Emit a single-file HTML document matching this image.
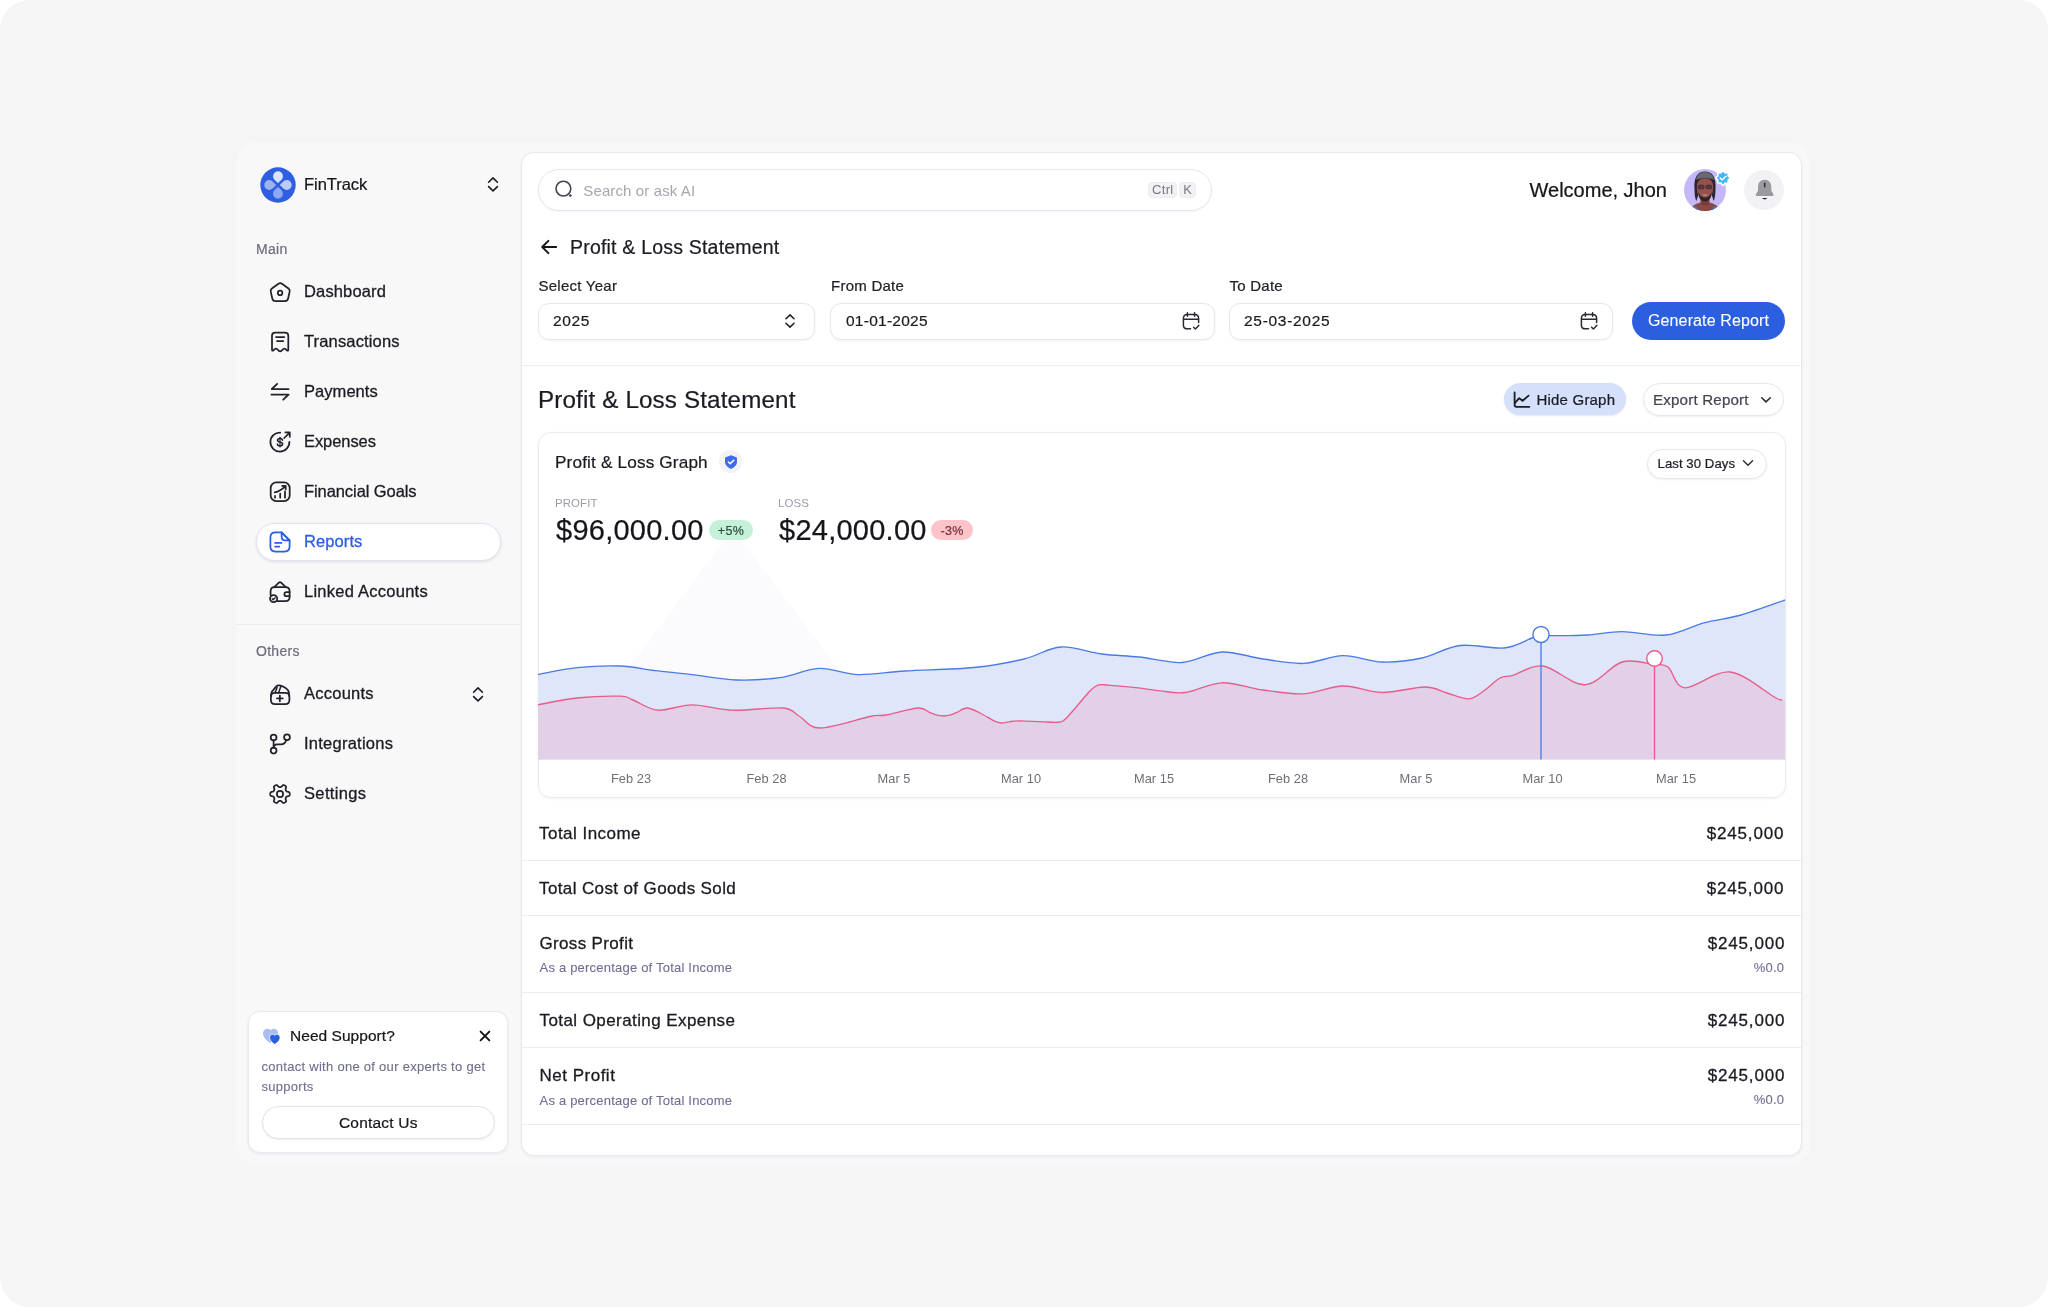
<!DOCTYPE html>
<html lang="en">
<head>
<meta charset="utf-8">
<title>FinTrack - Profit &amp; Loss Statement</title>
<style>
*{box-sizing:border-box;margin:0;padding:0}
html,body{width:2048px;height:1307px;overflow:hidden;background:#fff}
body{font-family:"Liberation Sans",sans-serif;color:#1b1b23;position:relative}
.abs{position:absolute}
#sidebar,#content{position:absolute;left:0;top:0;width:2048px;height:1307px;will-change:transform}
.t,.tr,.tc{-webkit-text-stroke:.22px}
.t{position:absolute;white-space:nowrap;line-height:1;transform:translateY(-50%)}
.tr{position:absolute;white-space:nowrap;line-height:1;transform:translate(-100%,-50%)}
.tc{position:absolute;white-space:nowrap;line-height:1;transform:translate(-50%,-50%)}
#bg{left:0;top:0;width:2048px;height:1307px;background:#f5f5f5;border-radius:30px}
#shell{left:236px;top:142px;width:1574px;height:1023px;background:#f8f8f9;border-radius:21px}
#main{left:521px;top:151.5px;width:1281px;height:1004px;background:#fff;border:1px solid #e8e8ef;border-radius:13px;box-shadow:0 1px 3px rgba(20,20,60,.06)}
.nav{font-size:16.5px;color:#1b1b23;letter-spacing:.25px;-webkit-text-stroke:.3px}
.lbl{font-size:14px;color:#6d6d7c;letter-spacing:.28px}
.ico{position:absolute;overflow:visible}
.hl{position:absolute;height:1px;background:#ececf1}
.inp{position:absolute;margin-top:.7px;height:37px;border:1px solid #e6e6ed;border-radius:11px;background:#fff;box-shadow:0 1px 2px rgba(20,20,60,.05)}
.pill{position:absolute;border:1px solid #e6e6ed;border-radius:20px;background:#fff;box-shadow:0 1px 2px rgba(20,20,60,.06)}
.row{font-size:17px;color:#1b1b23;letter-spacing:.2px;-webkit-text-stroke:.3px}
.sub{font-size:13px;color:#6e6e93;letter-spacing:.21px;-webkit-text-stroke:.1px}
.ax{font-size:12.8px;color:#6f6f79;-webkit-text-stroke:0;letter-spacing:.05px}
</style>
</head>
<body>
<div id="bg" class="abs"></div>
<div id="shell" class="abs"></div>

<!-- SIDEBAR -->
<div id="sidebar">
<!-- logo -->
<svg class="ico" style="left:259.1px;top:165.6px" width="38" height="38" viewBox="-19 -19 38 38">
  <defs>
    <linearGradient id="pg1" x1="0" y1="0" x2="0" y2="1"><stop offset="0" stop-color="#dde6fb"/><stop offset="1" stop-color="#d6e0fa"/></linearGradient>
    <linearGradient id="pg2" x1="0" y1="0" x2="0" y2="1"><stop offset="0" stop-color="#b9c9f6"/><stop offset="1" stop-color="#8ea8ef"/></linearGradient>
  </defs>
  <circle r="17.7" fill="#2d5fe0"/>
  <path id="ptl" d="M0,-1.8 C-1.5,-4 -4.9,-5.4 -4.9,-8.8 A4.9,4.9 0 1 1 4.9,-8.8 C4.9,-5.4 1.5,-4 0,-1.8Z" fill="url(#pg1)"/>
  <path d="M0,-1.8 C-1.5,-4 -4.9,-5.4 -4.9,-8.8 A4.9,4.9 0 1 1 4.9,-8.8 C4.9,-5.4 1.5,-4 0,-1.8Z" fill="#bccbf6" transform="rotate(90)"/>
  <path d="M0,-1.8 C-1.5,-4 -4.9,-5.4 -4.9,-8.8 A4.9,4.9 0 1 1 4.9,-8.8 C4.9,-5.4 1.5,-4 0,-1.8Z" fill="#90a8ef" transform="rotate(180)"/>
  <path d="M0,-1.8 C-1.5,-4 -4.9,-5.4 -4.9,-8.8 A4.9,4.9 0 1 1 4.9,-8.8 C4.9,-5.4 1.5,-4 0,-1.8Z" fill="#9db2f1" transform="rotate(270)"/>
</svg>
<div class="t" style="left:304px;top:184px;font-size:16.5px;letter-spacing:-.05px;color:#15151c">FinTrack</div>
<svg class="ico" style="left:481px;top:172px" width="24" height="24" viewBox="0 0 24 24" fill="none" stroke="#1b1b23" stroke-width="1.6" stroke-linecap="round" stroke-linejoin="round"><path d="M7.6 10.2 L12 5.9 L16.4 10.2 M7.6 14.6 L12 18.9 L16.4 14.6"/></svg>

<div class="t lbl" style="left:256px;top:248.6px">Main</div>

<!-- Dashboard -->
<svg class="ico" style="left:268px;top:280px" width="24" height="24" viewBox="0 0 24 24" fill="none" stroke="#22222b" stroke-width="1.75" stroke-linecap="round" stroke-linejoin="round"><path d="M10.4 3.7 Q12.2 2.4 14 3.7 L20.5 8.5 Q22.1 9.700 21.650 11.600 L20.100 18.500 Q19.500 21.100 16.900 21.100 L7.500 21.100 Q4.900 21.100 4.300 18.500 L2.750 11.600 Q2.300 9.700 3.900 8.500Z"/><circle cx="12.1" cy="12.9" r="2.25"/></svg>
<div class="t nav" style="left:304px;top:291.3px;letter-spacing:0.15px">Dashboard</div>

<!-- Transactions -->
<svg class="ico" style="left:268px;top:330px" width="24" height="24" viewBox="0 0 24 24" fill="none" stroke="#22222b" stroke-width="1.75" stroke-linecap="round" stroke-linejoin="round"><path d="M4 19.6 V5.8 Q4 2.6 7.2 2.6 H17.1 Q20.3 2.6 20.3 5.8 V19.6 Q20.3 21.3 18.9 20.4 L17.6 19.2 Q16.400 18.200 15.200 19.200 L13.600 20.700 Q12.150 21.800 10.700 20.700 L9.100 19.200 Q7.900 18.200 6.700 19.200 L5.400 20.400 Q4 21.300 4 19.600Z"/><path d="M8 7.1 H16.3 M9 11 H15.300"/></svg>
<div class="t nav" style="left:304px;top:341.3px;letter-spacing:0.15px">Transactions</div>

<!-- Payments -->
<svg class="ico" style="left:268px;top:380px" width="24" height="24" viewBox="0 0 24 24" fill="none" stroke="#22222b" stroke-width="1.75" stroke-linecap="round" stroke-linejoin="round"><path d="M20.6 9 H3.8 L9.2 3.9"/><path d="M3.4 14.500 H20.600 L15.200 19.700"/></svg>
<div class="t nav" style="left:304px;top:391.3px;letter-spacing:0.05px">Payments</div>

<!-- Expenses -->
<svg class="ico" style="left:268px;top:430px" width="24" height="24" viewBox="0 0 24 24" fill="none" stroke="#22222b" stroke-width="1.75" stroke-linecap="round" stroke-linejoin="round"><path d="M12.2 2.6 A9.5 9.5 0 1 0 21.4 11.8"/><path d="M17.4 2.4 H21.8 V6.8 M21.6 2.6 L16.2 8"/><path d="M14.500 10.300 C14.500 9.100 13.400 8.500 12 8.500 C10.500 8.500 9.500 9.200 9.500 10.300 C9.500 11.400 10.500 11.800 12 12.100 C13.600 12.400 14.600 12.900 14.600 14 C14.600 15.200 13.500 15.800 12 15.800 C10.500 15.800 9.400 15.200 9.400 14" stroke-width="1.500"/><path d="M12 7.300 V17" stroke-width="1.200"/></svg>
<div class="t nav" style="left:304px;top:441.3px;letter-spacing:-0.07px">Expenses</div>

<!-- Financial Goals -->
<svg class="ico" style="left:268px;top:480px" width="24" height="24" viewBox="0 0 24 24" fill="none" stroke="#22222b" stroke-width="1.75" stroke-linecap="round" stroke-linejoin="round"><rect x="2.7" y="2.4" width="19" height="18.700" rx="5.500"/><path d="M7 17.700 V15.900 M12.200 17.700 V13.700 M17 17.700 V11.400"/><path d="M6.700 12.400 Q12.400 11.200 17.200 6.400 M14.200 5.900 H17.700 V9.400"/></svg>
<div class="t nav" style="left:304px;top:491.3px;letter-spacing:-0.08px">Financial Goals</div>

<!-- Reports active -->
<div class="abs" style="left:256px;top:522.5px;width:244.5px;height:38px;background:#fff;border:1px solid #e2e3f0;border-radius:19px;box-shadow:0 1px 3px rgba(30,30,90,.12)"></div>
<svg class="ico" style="left:268.3px;top:530.2px" width="24" height="24" viewBox="0 0 24 24" fill="none" stroke="#2b5ee3" stroke-width="1.75" stroke-linecap="round" stroke-linejoin="round"><path d="M13.6 2.4 H7.4 Q2.4 2.4 2.4 7.4 V16.6 Q2.4 21.6 7.4 21.6 H16.6 Q21.6 21.6 21.6 16.6 V10.4 Z"/><path d="M13.6 2.4 L21.6 10.4 H17.6 Q13.6 10.4 13.6 6.4 Z"/><path d="M7.1 12.900 H13.500 M7.100 16.600 H11.300"/></svg>
<div class="t nav" style="left:304px;top:541.3px;color:#2b5ee3;letter-spacing:0.1px">Reports</div>

<!-- Linked Accounts -->
<svg class="ico" style="left:268px;top:580px" width="24" height="24" viewBox="0 0 24 24" fill="none" stroke="#22222b" stroke-width="1.75" stroke-linecap="round" stroke-linejoin="round"><path d="M9.4 21.2 H17.4 Q21.6 21.2 21.6 17 V11.4 Q21.6 7.2 17.4 7.2 H6.6 Q2.6 7.2 2.6 11.2 V15"/><path d="M6.2 7.2 L10.6 2.9 Q12 1.6 13.4 2.9 L17.8 7.2"/><path d="M21.6 12.2 H18.6 Q16.4 12.2 16.4 14.2 Q16.4 16.2 18.6 16.2 H21.6"/><circle cx="5.6" cy="18.6" r="3.6"/><path d="M4.2 18.7 L5.2 19.7 L7.1 17.7" stroke-width="1.3"/></svg>
<div class="t nav" style="left:304px;top:591.3px;letter-spacing:0.25px">Linked Accounts</div>

<div class="hl" style="left:236px;top:624px;width:285px;background:#ececf0"></div>
<div class="t lbl" style="left:256px;top:650.7px">Others</div>

<!-- Accounts -->
<svg class="ico" style="left:268px;top:682.5px" width="24" height="24" viewBox="0 0 24 24" fill="none" stroke="#22222b" stroke-width="1.75" stroke-linecap="round" stroke-linejoin="round"><path d="M2.9 13.700 Q2.900 9.900 6.700 9.900 H17.600 Q21.400 9.900 21.400 13.700 V17 Q21.400 21.100 17.300 21.100 H7 Q2.900 21.100 2.900 17Z"/><path d="M3 13 C3.100 9.400 4 7.800 5.400 6.900 L8.300 3.400 Q9.500 2.100 11.400 2.400 Q17 3.400 20.200 7.500 Q21.200 9 21.300 13"/><path d="M7.200 9.600 L9.100 4.400 M10.700 9.600 L12.800 3.500" stroke-width="1.500"/><path d="M9 15.400 H14.700 M11.850 12.600 V18.300"/></svg>
<div class="t nav" style="left:304px;top:693.3px;letter-spacing:0.25px">Accounts</div>
<svg class="ico" style="left:466px;top:682px" width="24" height="24" viewBox="0 0 24 24" fill="none" stroke="#1b1b23" stroke-width="1.6" stroke-linecap="round" stroke-linejoin="round"><path d="M7.6 10.2 L12 5.9 L16.4 10.2 M7.6 14.6 L12 18.9 L16.4 14.6"/></svg>

<!-- Integrations -->
<svg class="ico" style="left:268px;top:732px" width="24" height="24" viewBox="0 0 24 24" fill="none" stroke="#22222b" stroke-width="1.75" stroke-linecap="round" stroke-linejoin="round"><circle cx="5.6" cy="5.4" r="2.9"/><circle cx="5.6" cy="18.6" r="2.9"/><circle cx="19" cy="5.2" r="2.9"/><path d="M5.6 8.4 V15.6"/><path d="M5.6 15.700 Q5.700 12.300 9.200 12.300 L12.800 12.300 Q17.200 12.300 18.300 8"/></svg>
<div class="t nav" style="left:304px;top:743.3px;letter-spacing:0.25px">Integrations</div>

<!-- Settings -->
<svg class="ico" style="left:268px;top:782px" width="24" height="24" viewBox="0 0 24 24" fill="none" stroke="#22222b" stroke-width="1.75" stroke-linecap="round" stroke-linejoin="round"><path d="M21.75 12.00 L21.74 12.26 L21.73 12.51 L21.69 12.76 L21.64 13.01 L21.56 13.26 L21.43 13.49 L21.24 13.71 L20.95 13.90 L20.55 14.05 L20.07 14.16 L19.58 14.25 L19.18 14.33 L18.89 14.44 L18.68 14.56 L18.52 14.70 L18.40 14.85 L18.30 15.00 L18.20 15.16 L18.11 15.32 L18.02 15.47 L17.93 15.63 L17.84 15.79 L17.75 15.95 L17.67 16.12 L17.60 16.30 L17.56 16.50 L17.55 16.74 L17.61 17.05 L17.74 17.44 L17.90 17.90 L18.05 18.38 L18.12 18.80 L18.10 19.14 L18.01 19.42 L17.87 19.65 L17.70 19.84 L17.51 20.01 L17.30 20.17 L17.09 20.31 L16.88 20.44 L16.65 20.57 L16.42 20.68 L16.19 20.78 L15.94 20.85 L15.69 20.91 L15.42 20.92 L15.14 20.86 L14.83 20.70 L14.50 20.43 L14.16 20.07 L13.85 19.69 L13.57 19.39 L13.33 19.18 L13.12 19.06 L12.92 19.00 L12.73 18.97 L12.55 18.96 L12.36 18.95 L12.18 18.95 L12.00 18.95 L11.82 18.95 L11.64 18.95 L11.45 18.96 L11.27 18.97 L11.08 19.00 L10.88 19.06 L10.67 19.18 L10.43 19.39 L10.15 19.69 L9.84 20.07 L9.50 20.43 L9.17 20.70 L8.86 20.86 L8.58 20.92 L8.31 20.91 L8.06 20.85 L7.81 20.78 L7.58 20.68 L7.35 20.57 L7.13 20.44 L6.91 20.31 L6.70 20.17 L6.49 20.01 L6.30 19.84 L6.13 19.65 L5.99 19.42 L5.90 19.14 L5.88 18.80 L5.95 18.38 L6.10 17.90 L6.26 17.44 L6.39 17.05 L6.45 16.74 L6.44 16.50 L6.40 16.30 L6.33 16.12 L6.25 15.95 L6.16 15.79 L6.07 15.63 L5.98 15.47 L5.89 15.32 L5.80 15.16 L5.70 15.00 L5.60 14.85 L5.48 14.70 L5.32 14.56 L5.11 14.44 L4.82 14.33 L4.42 14.25 L3.93 14.16 L3.45 14.05 L3.05 13.90 L2.76 13.71 L2.57 13.49 L2.44 13.26 L2.36 13.01 L2.31 12.76 L2.27 12.51 L2.26 12.26 L2.25 12.00 L2.26 11.74 L2.27 11.49 L2.31 11.24 L2.36 10.99 L2.44 10.74 L2.57 10.51 L2.76 10.29 L3.05 10.10 L3.45 9.95 L3.93 9.84 L4.42 9.75 L4.82 9.67 L5.11 9.56 L5.32 9.44 L5.48 9.30 L5.60 9.15 L5.70 9.00 L5.80 8.84 L5.89 8.68 L5.98 8.53 L6.07 8.37 L6.16 8.21 L6.25 8.05 L6.33 7.88 L6.40 7.70 L6.44 7.50 L6.45 7.26 L6.39 6.95 L6.26 6.56 L6.10 6.10 L5.95 5.62 L5.88 5.20 L5.90 4.86 L5.99 4.58 L6.13 4.35 L6.30 4.16 L6.49 3.99 L6.70 3.83 L6.91 3.69 L7.12 3.56 L7.35 3.43 L7.58 3.32 L7.81 3.22 L8.06 3.15 L8.31 3.09 L8.58 3.08 L8.86 3.14 L9.17 3.30 L9.50 3.57 L9.84 3.93 L10.15 4.31 L10.43 4.61 L10.67 4.82 L10.88 4.94 L11.08 5.00 L11.27 5.03 L11.45 5.04 L11.64 5.05 L11.82 5.05 L12.00 5.05 L12.18 5.05 L12.36 5.05 L12.55 5.04 L12.73 5.03 L12.92 5.00 L13.12 4.94 L13.33 4.82 L13.57 4.61 L13.85 4.31 L14.16 3.93 L14.50 3.57 L14.83 3.30 L15.14 3.14 L15.42 3.08 L15.69 3.09 L15.94 3.15 L16.19 3.22 L16.42 3.32 L16.65 3.43 L16.88 3.56 L17.09 3.69 L17.30 3.83 L17.51 3.99 L17.70 4.16 L17.87 4.35 L18.01 4.58 L18.10 4.86 L18.12 5.20 L18.05 5.62 L17.90 6.10 L17.74 6.56 L17.61 6.95 L17.55 7.26 L17.56 7.50 L17.60 7.70 L17.67 7.88 L17.75 8.05 L17.84 8.21 L17.93 8.37 L18.02 8.53 L18.11 8.68 L18.20 8.84 L18.30 9.00 L18.40 9.15 L18.52 9.30 L18.68 9.44 L18.89 9.56 L19.18 9.67 L19.58 9.75 L20.07 9.84 L20.55 9.95 L20.95 10.10 L21.24 10.29 L21.43 10.51 L21.56 10.74 L21.64 10.99 L21.69 11.24 L21.73 11.49 L21.74 11.74Z"/><circle cx="12" cy="12" r="3.1"/></svg>
<div class="t nav" style="left:304px;top:793.3px;letter-spacing:0.35px">Settings</div>

<!-- Support card -->
<div class="abs" style="left:248px;top:1011px;width:260px;height:142px;background:#fff;border:1px solid #e9e9f0;border-radius:12px;box-shadow:0 1px 3px rgba(30,30,90,.08)"></div>
<svg class="ico" style="left:262.3px;top:1026.5px" width="23.1" height="21" viewBox="0 0 22 20"><path d="M7.6 15.2 C2.6 11.6 1 9 1 6 C1 3.4 3 1.6 5.2 1.6 C6.6 1.6 7.6 2.3 8.2 3.2 C8.8 2.3 9.8 1.6 11.2 1.6 C13.4 1.6 15.4 3.4 15.4 6 C15.4 9 13.2 12 7.6 15.2Z" fill="#a9bcf3"/><path d="M12.2 16.6 C8.6 14.2 7.2 12.2 7.2 10 C7.2 8.2 8.6 6.8 10.2 6.8 C11.1 6.8 11.8 7.3 12.2 7.9 C12.6 7.3 13.3 6.8 14.2 6.8 C15.8 6.8 17.2 8.2 17.2 10 C17.2 12.2 15.8 14.2 12.2 16.6Z" fill="#2d5fe0" stroke="#fff" stroke-width=".8"/></svg>
<div class="t" style="left:290px;top:1035.8px;font-size:15.5px;color:#15151c;letter-spacing:.04px">Need Support?</div>
<svg class="ico" style="left:474.5px;top:1025.8px" width="20" height="20" viewBox="0 0 20 20" fill="none" stroke="#15151c" stroke-width="1.9" stroke-linecap="round"><path d="M5.6 5.6 L14.4 14.4 M14.4 5.600 L5.600 14.4"/></svg>
<div class="t" style="left:261.5px;top:1065.8px;font-size:13px;color:#6e6e8d;letter-spacing:.28px;-webkit-text-stroke:.1px">contact with one of our experts to get</div>
<div class="t" style="left:261.5px;top:1085.8px;font-size:13px;color:#6e6e8d;letter-spacing:.28px;-webkit-text-stroke:.1px">supports</div>
<div class="abs" style="left:261.5px;top:1105.5px;width:233px;height:33px;background:#fff;border:1px solid #e2e2ea;border-radius:17px;box-shadow:0 1px 2px rgba(30,30,90,.08)"></div>
<div class="tc" style="left:378.3px;top:1122.8px;font-size:15.5px;color:#15151c;letter-spacing:.2px">Contact Us</div>
</div>

<!-- MAIN -->
<div id="main" class="abs"></div>
<div id="content">
<!-- search -->
<div class="abs" style="left:538px;top:169px;width:674px;height:42px;background:#fff;border:1px solid #e5e5ed;border-radius:21px;box-shadow:0 1px 2px rgba(30,30,90,.05)"></div>
<svg class="ico" style="left:551.5px;top:177.4px" width="24" height="24" viewBox="0 0 24 24" fill="none" stroke="#44444f" stroke-width="1.6" stroke-linecap="round"><circle cx="11.4" cy="11.6" r="7.4"/><circle cx="18.3" cy="18.6" r=".9" fill="#3a3a44" stroke-width="1"/></svg>
<div class="t" style="left:583.3px;top:189.700px;font-size:15px;color:#a6a6b0;letter-spacing:.12px;-webkit-text-stroke:0">Search or ask AI</div>
<div class="abs" style="left:1148.3px;top:181.5px;width:28.5px;height:16px;background:#f2f2f5;border:1px solid #ececf1;border-radius:4px"></div>
<div class="tc" style="left:1162.8px;top:189.4px;font-size:13px;color:#777781;letter-spacing:.35px;-webkit-text-stroke:0">Ctrl</div>
<div class="abs" style="left:1179px;top:181.5px;width:16.7px;height:16px;background:#f2f2f5;border:1px solid #ececf1;border-radius:4px"></div>
<div class="tc" style="left:1187.5px;top:189.4px;font-size:13px;color:#777781;-webkit-text-stroke:0">K</div>

<!-- welcome -->
<div class="tr" style="left:1667px;top:190px;font-size:20px;color:#15151c;letter-spacing:0px">Welcome, Jhon</div>
<svg class="ico" style="left:1683px;top:168px" width="50" height="44" viewBox="0 0 50 44">
  <defs><clipPath id="avc"><circle cx="22" cy="22" r="21"/></clipPath></defs>
  <circle cx="22" cy="22" r="21" fill="#c5b8fa"/>
  <g clip-path="url(#avc)">
    <path d="M7 44 C8 37 14 35.5 17.5 34.5 L26.5 34.5 C30 35.5 36 37 37 44Z" fill="#8a4a44"/>
    <path d="M9 44 C9.5 40 11 38.6 13 38 L16 44Z M35 44 C34.500 40 33 38.6 31 38 L28 44Z" fill="#3a78d8"/>
    <path d="M17.500 28 H26.500 V36 Q22 39 17.500 36Z" fill="#7a3e3a"/>
    <path d="M11.500 21 C10.500 9 15 3.500 22 3.500 C29 3.500 33.500 9 32.500 21 C32.500 27 31.800 31 30.500 33 L28 24 L16 24 L13.500 33 C12.200 31 11.500 27 11.500 21Z" fill="#2a2530"/>
    <path d="M13 12 C14 6 18 4 22 4 C26 4 30 6 31 12 C27 9.500 17 9.500 13 12Z" fill="#6a6772"/>
    <path d="M13.800 19 C13.800 13.200 16.600 10.600 22 10.600 C27.400 10.600 30.200 13.200 30.200 19 C30.200 26 27.400 32.800 22 32.800 C16.600 32.800 13.800 26 13.800 19Z" fill="#95524c"/>
    <path d="M15.500 24 C17 28 19 29.500 22 29.500 C25 29.500 27 28 28.500 24 C28.500 30 26 33.500 22 33.500 C18 33.500 15.500 30 15.500 24Z" fill="#2e2226"/>
    <path d="M19 26.200 Q22 28.800 25 26.200 Q22 27.300 19 26.200Z" fill="#f3d9d4"/>
    <rect x="15.300" y="17.200" width="5.800" height="3.600" rx="1.500" fill="#5b3a3e" stroke="#2a2530" stroke-width=".7"/>
    <rect x="22.900" y="17.200" width="5.800" height="3.600" rx="1.500" fill="#5b3a3e" stroke="#2a2530" stroke-width=".7"/>
  </g>
  <g transform="translate(40,10)">
    <path d="M7.05 0.00 L6.93 0.45 L6.62 0.87 L6.18 1.23 L5.72 1.53 L5.35 1.82 L5.13 2.12 L5.07 2.50 L5.13 2.96 L5.24 3.50 L5.30 4.06 L5.22 4.58 L4.99 4.99 L4.58 5.22 L4.06 5.30 L3.50 5.24 L2.96 5.13 L2.50 5.07 L2.12 5.13 L1.82 5.35 L1.53 5.72 L1.23 6.18 L0.87 6.62 L0.45 6.93 L0.00 7.05 L-0.45 6.93 L-0.87 6.62 L-1.23 6.18 L-1.53 5.72 L-1.82 5.35 L-2.12 5.13 L-2.50 5.07 L-2.96 5.13 L-3.50 5.24 L-4.06 5.30 L-4.58 5.22 L-4.99 4.99 L-5.22 4.58 L-5.30 4.06 L-5.24 3.50 L-5.13 2.96 L-5.07 2.50 L-5.13 2.12 L-5.35 1.82 L-5.72 1.53 L-6.18 1.23 L-6.62 0.87 L-6.93 0.45 L-7.05 0.00 L-6.93 -0.45 L-6.62 -0.87 L-6.18 -1.23 L-5.72 -1.53 L-5.35 -1.82 L-5.13 -2.12 L-5.07 -2.50 L-5.13 -2.96 L-5.24 -3.50 L-5.30 -4.06 L-5.22 -4.58 L-4.99 -4.99 L-4.58 -5.22 L-4.06 -5.30 L-3.50 -5.24 L-2.96 -5.13 L-2.50 -5.07 L-2.12 -5.13 L-1.82 -5.35 L-1.53 -5.72 L-1.23 -6.18 L-0.87 -6.62 L-0.45 -6.93 L-0.00 -7.05 L0.45 -6.93 L0.87 -6.62 L1.23 -6.18 L1.53 -5.72 L1.82 -5.35 L2.12 -5.13 L2.50 -5.07 L2.96 -5.13 L3.50 -5.24 L4.06 -5.30 L4.58 -5.22 L4.99 -4.99 L5.22 -4.58 L5.30 -4.06 L5.24 -3.50 L5.13 -2.96 L5.07 -2.50 L5.13 -2.12 L5.35 -1.82 L5.72 -1.53 L6.18 -1.23 L6.62 -0.87 L6.93 -0.45Z" fill="#41b4f5" stroke="#fff" stroke-width="1.6"/>
    <path d="M-2.700 .1 L-.8 2 L2.900 -1.800" fill="none" stroke="#fff" stroke-width="1.500" stroke-linecap="round" stroke-linejoin="round"/>
  </g>
</svg>
<div class="abs" style="left:1743.9px;top:169.6px;width:40.600px;height:40.600px;background:#f2f2f5;border-radius:50%"></div>
<svg class="ico" style="left:1750.6px;top:175.800px" width="27.400" height="27.400" viewBox="0 0 24 24"><path d="M12 3.200 C8.300 3.200 6.200 5.900 6.200 9.200 L6.200 12 C6.200 13.600 5 14.600 4.400 15.800 C4 16.700 4.500 17.600 5.600 17.600 L18.400 17.600 C19.500 17.600 20 16.700 19.600 15.800 C19 14.600 17.800 13.600 17.800 12 L17.800 9.200 C17.800 5.900 15.700 3.200 12 3.200Z" fill="#9a9aa0"/><path d="M9.600 19.200 Q12 21.800 14.400 19.200Z" fill="#2a2a30"/><path d="M12 6.400 V9.400" stroke="#2a2a30" stroke-width="1.300" stroke-linecap="round"/></svg>

<!-- back + title -->
<svg class="ico" style="left:537px;top:235px" width="24" height="24" viewBox="0 0 24 24" fill="none" stroke="#15151c" stroke-width="1.900" stroke-linecap="round" stroke-linejoin="round"><path d="M19.200 12 H5.400 M11.400 5.800 L5.200 12 L11.400 18.200"/></svg>
<div class="t" style="left:570px;top:248.300px;font-size:19.500px;color:#1b1b23;letter-spacing:.2px">Profit &amp; Loss Statement</div>

<!-- filters -->
<div class="t" style="left:538.500px;top:284.500px;font-size:15px;color:#22222b;letter-spacing:.25px">Select Year</div>
<div class="t" style="left:831px;top:284.500px;font-size:15px;color:#22222b;letter-spacing:.25px">From Date</div>
<div class="t" style="left:1229.500px;top:284.500px;font-size:15px;color:#22222b;letter-spacing:.25px">To Date</div>
<div class="inp" style="left:538px;top:302px;width:277px"></div>
<div class="t" style="left:553px;top:321px;font-size:15.500px;color:#1b1b23;letter-spacing:.6px">2025</div>
<svg class="ico" style="left:778px;top:309px" width="24" height="24" viewBox="0 0 24 24" fill="none" stroke="#1b1b23" stroke-width="1.500" stroke-linecap="round" stroke-linejoin="round"><path d="M8 9.800 L12 5.900 L16 9.800 M8 14.200 L12 18.100 L16 14.200"/></svg>
<div class="inp" style="left:830px;top:302px;width:385px"></div>
<div class="t" style="left:846px;top:321px;font-size:15.500px;color:#1b1b23;letter-spacing:.25px">01-01-2025</div>
<svg class="ico cal" style="left:1179px;top:309px" width="24" height="24" viewBox="0 0 24 24" fill="none" stroke="#2a2a33" stroke-width="1.500" stroke-linecap="round" stroke-linejoin="round"><path d="M11.500 19.800 H8.200 Q4.400 19.800 4.400 16 V9.400 Q4.400 5.600 8.200 5.600 H15.800 Q19.600 5.600 19.600 9.400 V13.600"/><path d="M8.400 3.800 V7.200 M15.600 3.800 V7.200 M4.600 10.200 H19.400"/><path d="M14.600 18.200 L16.400 20 L19.800 16.400"/></svg>
<div class="inp" style="left:1229px;top:302px;width:384px"></div>
<div class="t" style="left:1244px;top:321px;font-size:15.500px;color:#1b1b23;letter-spacing:.7px">25-03-2025</div>
<svg class="ico cal" style="left:1577px;top:309px" width="24" height="24" viewBox="0 0 24 24" fill="none" stroke="#2a2a33" stroke-width="1.500" stroke-linecap="round" stroke-linejoin="round"><path d="M11.500 19.800 H8.200 Q4.400 19.800 4.400 16 V9.400 Q4.400 5.600 8.200 5.600 H15.800 Q19.600 5.600 19.600 9.400 V13.600"/><path d="M8.400 3.800 V7.200 M15.600 3.800 V7.200 M4.600 10.200 H19.400"/><path d="M14.600 18.200 L16.400 20 L19.800 16.400"/></svg>
<div class="abs" style="left:1632px;top:302px;width:153px;height:38px;background:#2b5fe0;border-radius:19px"></div>
<div class="tc" style="left:1708.500px;top:321px;font-size:16px;color:#fff;letter-spacing:.12px;-webkit-text-stroke:.1px">Generate Report</div>

<div class="hl" style="left:522px;top:365px;width:1279px"></div>

<!-- section header -->
<div class="t" style="left:538px;top:399.500px;font-size:24.200px;color:#1b1b23;letter-spacing:.15px">Profit &amp; Loss Statement</div>
<div class="abs" style="left:1504px;top:383.2px;width:122px;height:32px;background:#d5e0fb;border-radius:16px;box-shadow:0 1px 2px rgba(30,30,90,.10)"></div>
<svg class="ico" style="left:1510px;top:387.6px" width="24" height="24" viewBox="0 0 24 24" fill="none" stroke="#1b1b23" stroke-width="1.800" stroke-linecap="round" stroke-linejoin="round"><path d="M4.600 4.400 V16.800 Q4.600 18.800 6.600 18.800 H19.400"/><path d="M5 14.800 L9.200 10.200 L12.600 12.800 L18.600 7.600"/></svg>
<div class="t" style="left:1536.500px;top:399.1px;font-size:15px;color:#1b1b23;letter-spacing:.2px">Hide Graph</div>
<div class="pill" style="left:1643px;top:383px;width:141px;height:32.5px"></div>
<div class="t" style="left:1653px;top:400px;font-size:15.2px;color:#45454f;letter-spacing:.15px">Export Report</div>
<svg class="ico" style="left:1754px;top:388px" width="24" height="24" viewBox="0 0 24 24" fill="none" stroke="#2a2a33" stroke-width="1.500" stroke-linecap="round" stroke-linejoin="round"><path d="M7.700 9.800 L12 13.900 L16.300 9.800"/></svg>

<!-- chart card -->
<div class="abs" style="left:538px;top:432px;width:1248px;height:366px;background:#fff;border:1px solid #ebebf1;border-radius:13px;box-shadow:0 1px 3px rgba(30,30,90,.06)"></div>
<svg class="ico" style="left:0;top:0" width="2048" height="1307" viewBox="0 0 2048 1307">
  <path d="M733 529.5 L861.7 700 L604.3 700Z" fill="#fbfbfd"/>
  <path d="M538.0 674.5 C544.5 673.4 563.3 669.0 577.0 667.6 C590.7 666.2 607.0 665.5 620.0 666.0 C633.0 666.5 643.0 669.2 655.0 670.6 C667.0 672.0 678.5 673.0 692.0 674.6 C705.5 676.2 721.3 679.5 736.0 680.0 C750.7 680.5 766.2 679.5 780.0 677.6 C793.8 675.7 806.0 668.9 819.0 668.4 C832.0 667.9 843.7 674.2 858.0 674.6 C872.3 675.0 885.7 672.2 905.0 671.0 C924.3 669.8 954.2 669.5 974.0 667.5 C993.8 665.5 1009.5 662.4 1024.0 659.0 C1038.5 655.6 1048.0 647.8 1061.0 647.0 C1074.0 646.2 1089.0 652.3 1102.0 654.0 C1115.0 655.7 1125.7 655.6 1139.0 657.0 C1152.3 658.4 1168.2 663.3 1182.0 662.5 C1195.8 661.7 1208.5 652.6 1222.0 652.0 C1235.5 651.4 1249.3 657.1 1263.0 659.0 C1276.7 660.9 1290.7 664.0 1304.0 663.4 C1317.3 662.8 1330.0 655.8 1343.0 655.6 C1356.0 655.4 1368.8 661.6 1382.0 662.0 C1395.2 662.4 1409.0 660.8 1422.0 658.0 C1435.0 655.2 1446.3 647.2 1460.0 645.5 C1473.7 643.8 1492.0 649.2 1504.0 648.0 C1516.0 646.8 1525.8 640.2 1532.0 638.0 C1538.2 635.8 1537.8 635.0 1541.0 634.6 C1544.2 634.2 1543.2 635.5 1551.0 635.6 C1558.8 635.7 1576.2 635.7 1588.0 635.0 C1599.8 634.3 1609.0 631.6 1622.0 631.6 C1635.0 631.6 1652.3 636.5 1666.0 635.0 C1679.7 633.5 1691.5 626.1 1704.0 622.8 C1716.5 619.5 1727.5 618.8 1741.0 615.0 C1754.5 611.2 1777.7 602.5 1785.0 600.0 L1785 759.5 L538 759.5Z" fill="#dfe6fa"/>
  <path d="M538.0 704.8 C544.5 703.7 563.3 699.4 577.0 698.0 C590.7 696.6 610.7 695.9 620.0 696.2 C629.3 696.5 626.7 697.7 633.0 700.0 C639.3 702.3 648.2 709.4 658.0 710.2 C667.8 711.0 679.5 704.8 692.0 704.8 C704.5 704.8 717.8 709.7 733.0 710.2 C748.2 710.7 772.0 707.0 783.0 708.0 C794.0 709.0 792.8 712.7 799.0 716.0 C805.2 719.3 808.2 727.9 820.0 728.0 C831.8 728.1 859.0 718.7 870.0 716.5 C881.0 714.3 878.0 716.4 886.0 715.0 C894.0 713.6 910.7 708.4 918.0 708.0 C925.3 707.6 926.8 711.4 930.0 712.6 C933.2 713.8 934.8 714.6 937.0 715.2 C939.2 715.8 941.3 716.0 943.5 716.0 C945.7 716.0 947.8 715.8 950.0 715.2 C952.2 714.6 954.2 713.6 957.0 712.4 C959.8 711.2 963.2 707.9 967.0 708.0 C970.8 708.1 975.5 710.9 980.0 713.0 C984.5 715.1 990.4 719.1 994.0 720.8 C997.6 722.5 999.0 722.8 1001.5 723.0 C1004.0 723.2 1006.2 722.1 1009.0 721.8 C1011.8 721.4 1012.8 720.9 1018.0 720.9 C1023.2 720.9 1033.7 721.4 1040.0 721.6 C1046.3 721.8 1052.2 722.4 1056.0 722.3 C1059.8 722.2 1060.5 722.5 1063.0 721.0 C1065.5 719.5 1066.7 717.8 1071.0 713.0 C1075.3 708.2 1084.9 696.5 1089.0 692.0 C1093.1 687.5 1093.6 687.5 1095.5 686.3 C1097.4 685.1 1098.4 684.9 1100.5 684.7 C1102.6 684.5 1102.1 684.6 1108.0 685.1 C1113.9 685.6 1127.3 686.8 1136.0 687.7 C1144.7 688.7 1151.8 690.0 1160.0 690.8 C1168.2 691.6 1174.7 693.8 1185.0 692.5 C1195.3 691.2 1209.0 683.2 1222.0 682.8 C1235.0 682.4 1249.3 688.2 1263.0 690.0 C1276.7 691.8 1290.7 694.5 1304.0 693.8 C1317.3 693.1 1330.0 686.2 1343.0 686.0 C1356.0 685.8 1368.3 692.3 1382.0 692.5 C1395.7 692.7 1414.2 686.9 1425.0 687.0 C1435.8 687.1 1439.7 691.0 1447.0 693.0 C1454.3 695.0 1462.7 699.3 1469.0 698.8 C1475.3 698.3 1479.8 693.5 1485.0 690.0 C1490.2 686.5 1495.3 680.5 1500.0 678.0 C1504.7 675.5 1505.8 677.3 1513.0 675.3 C1520.2 673.3 1531.0 664.4 1543.0 666.0 C1555.0 667.6 1571.8 685.4 1585.0 684.7 C1598.2 684.0 1610.5 665.4 1622.0 662.0 C1633.5 658.6 1646.3 663.6 1654.0 664.4 C1661.7 665.2 1662.8 663.1 1668.0 667.0 C1673.2 670.9 1674.7 687.0 1685.0 687.8 C1695.3 688.6 1715.0 670.4 1730.0 672.0 C1745.0 673.6 1766.3 692.9 1775.0 697.5 C1783.7 702.1 1780.8 699.2 1782.0 699.5 L1785 700 L1785 759.5 L538 759.5Z" fill="#e2d0e8"/>
  <path d="M538.0 674.5 C544.5 673.4 563.3 669.0 577.0 667.6 C590.7 666.2 607.0 665.5 620.0 666.0 C633.0 666.5 643.0 669.2 655.0 670.6 C667.0 672.0 678.5 673.0 692.0 674.6 C705.5 676.2 721.3 679.5 736.0 680.0 C750.7 680.5 766.2 679.5 780.0 677.6 C793.8 675.7 806.0 668.9 819.0 668.4 C832.0 667.9 843.7 674.2 858.0 674.6 C872.3 675.0 885.7 672.2 905.0 671.0 C924.3 669.8 954.2 669.5 974.0 667.5 C993.8 665.5 1009.5 662.4 1024.0 659.0 C1038.5 655.6 1048.0 647.8 1061.0 647.0 C1074.0 646.2 1089.0 652.3 1102.0 654.0 C1115.0 655.7 1125.7 655.6 1139.0 657.0 C1152.3 658.4 1168.2 663.3 1182.0 662.5 C1195.8 661.7 1208.5 652.6 1222.0 652.0 C1235.5 651.4 1249.3 657.1 1263.0 659.0 C1276.7 660.9 1290.7 664.0 1304.0 663.4 C1317.3 662.8 1330.0 655.8 1343.0 655.6 C1356.0 655.4 1368.8 661.6 1382.0 662.0 C1395.2 662.4 1409.0 660.8 1422.0 658.0 C1435.0 655.2 1446.3 647.2 1460.0 645.5 C1473.7 643.8 1492.0 649.2 1504.0 648.0 C1516.0 646.8 1525.8 640.2 1532.0 638.0 C1538.2 635.8 1537.8 635.0 1541.0 634.6 C1544.2 634.2 1543.2 635.5 1551.0 635.6 C1558.8 635.7 1576.2 635.7 1588.0 635.0 C1599.8 634.3 1609.0 631.6 1622.0 631.6 C1635.0 631.6 1652.3 636.5 1666.0 635.0 C1679.7 633.5 1691.5 626.1 1704.0 622.8 C1716.5 619.5 1727.5 618.8 1741.0 615.0 C1754.5 611.2 1777.7 602.5 1785.0 600.0" fill="none" stroke="#4a7be4" stroke-width="1.35"/>
  <path d="M538.0 704.8 C544.5 703.7 563.3 699.4 577.0 698.0 C590.7 696.6 610.7 695.9 620.0 696.2 C629.3 696.5 626.7 697.7 633.0 700.0 C639.3 702.3 648.2 709.4 658.0 710.2 C667.8 711.0 679.5 704.8 692.0 704.8 C704.5 704.8 717.8 709.7 733.0 710.2 C748.2 710.7 772.0 707.0 783.0 708.0 C794.0 709.0 792.8 712.7 799.0 716.0 C805.2 719.3 808.2 727.9 820.0 728.0 C831.8 728.1 859.0 718.7 870.0 716.5 C881.0 714.3 878.0 716.4 886.0 715.0 C894.0 713.6 910.7 708.4 918.0 708.0 C925.3 707.6 926.8 711.4 930.0 712.6 C933.2 713.8 934.8 714.6 937.0 715.2 C939.2 715.8 941.3 716.0 943.5 716.0 C945.7 716.0 947.8 715.8 950.0 715.2 C952.2 714.6 954.2 713.6 957.0 712.4 C959.8 711.2 963.2 707.9 967.0 708.0 C970.8 708.1 975.5 710.9 980.0 713.0 C984.5 715.1 990.4 719.1 994.0 720.8 C997.6 722.5 999.0 722.8 1001.5 723.0 C1004.0 723.2 1006.2 722.1 1009.0 721.8 C1011.8 721.4 1012.8 720.9 1018.0 720.9 C1023.2 720.9 1033.7 721.4 1040.0 721.6 C1046.3 721.8 1052.2 722.4 1056.0 722.3 C1059.8 722.2 1060.5 722.5 1063.0 721.0 C1065.5 719.5 1066.7 717.8 1071.0 713.0 C1075.3 708.2 1084.9 696.5 1089.0 692.0 C1093.1 687.5 1093.6 687.5 1095.5 686.3 C1097.4 685.1 1098.4 684.9 1100.5 684.7 C1102.6 684.5 1102.1 684.6 1108.0 685.1 C1113.9 685.6 1127.3 686.8 1136.0 687.7 C1144.7 688.7 1151.8 690.0 1160.0 690.8 C1168.2 691.6 1174.7 693.8 1185.0 692.5 C1195.3 691.2 1209.0 683.2 1222.0 682.8 C1235.0 682.4 1249.3 688.2 1263.0 690.0 C1276.7 691.8 1290.7 694.5 1304.0 693.8 C1317.3 693.1 1330.0 686.2 1343.0 686.0 C1356.0 685.8 1368.3 692.3 1382.0 692.5 C1395.7 692.7 1414.2 686.9 1425.0 687.0 C1435.8 687.1 1439.7 691.0 1447.0 693.0 C1454.3 695.0 1462.7 699.3 1469.0 698.8 C1475.3 698.3 1479.8 693.5 1485.0 690.0 C1490.2 686.5 1495.3 680.5 1500.0 678.0 C1504.7 675.5 1505.8 677.3 1513.0 675.3 C1520.2 673.3 1531.0 664.4 1543.0 666.0 C1555.0 667.6 1571.8 685.4 1585.0 684.7 C1598.2 684.0 1610.5 665.4 1622.0 662.0 C1633.5 658.6 1646.3 663.6 1654.0 664.4 C1661.7 665.2 1662.8 663.1 1668.0 667.0 C1673.2 670.9 1674.7 687.0 1685.0 687.8 C1695.3 688.6 1715.0 670.4 1730.0 672.0 C1745.0 673.6 1766.3 692.9 1775.0 697.5 C1783.7 702.1 1780.8 699.2 1782.0 699.5" fill="none" stroke="#e85c8a" stroke-width="1.35"/>
  <path d="M1541 634.5 V759.5" stroke="#4a7be4" stroke-width="1.35"/>
  <path d="M1654.5 658.5 V759.5" stroke="#e85c8a" stroke-width="1.35"/>
  <circle cx="1541" cy="634.5" r="8" fill="#fff" stroke="#4a7be4" stroke-width="1.4"/>
  <circle cx="1654.5" cy="658.5" r="7.8" fill="#fff" stroke="#e85c8a" stroke-width="1.4"/>
</svg>
<div class="t" style="left:555px;top:463px;font-size:17.2px;color:#1b1b23;letter-spacing:.15px">Profit &amp; Loss Graph</div>
<div class="abs" style="left:719px;top:450px;width:23px;height:23px;background:#f3f3f7;border-radius:50%"></div>
<svg class="ico" style="left:722.5px;top:453.5px" width="16" height="16" viewBox="0 0 16 16"><path d="M8 1.2 L13.4 3.2 Q14 3.5 14 4.200 V8 Q14 12.200 8 14.900 Q2 12.200 2 8 V4.200 Q2 3.500 2.600 3.200Z" fill="#3f6be6"/><path d="M5.400 8 L7.200 9.800 L10.700 6.200" fill="none" stroke="#fff" stroke-width="1.500" stroke-linecap="round" stroke-linejoin="round"/></svg>
<div class="pill" style="left:1647.3px;top:449px;width:120.2px;height:29.5px"></div>
<div class="t" style="left:1657.5px;top:463.500px;font-size:13.2px;color:#1b1b23;letter-spacing:.05px">Last 30 Days</div>
<svg class="ico" style="left:1737px;top:452px" width="22" height="22" viewBox="0 0 24 24" fill="none" stroke="#2a2a33" stroke-width="1.600" stroke-linecap="round" stroke-linejoin="round"><path d="M7 9.600 L12 14.400 L17 9.600"/></svg>

<div class="t" style="left:555px;top:504.4px;font-size:11.500px;color:#9c9ca8;letter-spacing:.05px;-webkit-text-stroke:0">PROFIT</div>
<div class="t" style="left:556px;top:529.500px;font-size:29px;color:#15151c;letter-spacing:.25px">$96,000.00</div>
<div class="abs" style="left:709px;top:520px;width:44px;height:20px;background:#c5f1d9;border-radius:10px"></div>
<div class="tc" style="left:731px;top:530.500px;font-size:12.500px;color:#2a4f3f;letter-spacing:.3px">+5%</div>
<div class="t" style="left:778px;top:504.4px;font-size:11.500px;color:#9c9ca8;letter-spacing:.05px;-webkit-text-stroke:0">LOSS</div>
<div class="t" style="left:779px;top:529.500px;font-size:29px;color:#15151c;letter-spacing:.25px">$24,000.00</div>
<div class="abs" style="left:931px;top:520px;width:42px;height:20px;background:#fcc3c9;border-radius:10px"></div>
<div class="tc" style="left:952px;top:530.500px;font-size:12.500px;color:#7c2f36;letter-spacing:.3px">-3%</div>
<div class="tc ax" style="left:631px;top:778.8px">Feb 23</div>
<div class="tc ax" style="left:766.5px;top:778.8px">Feb 28</div>
<div class="tc ax" style="left:894px;top:778.8px">Mar 5</div>
<div class="tc ax" style="left:1021px;top:778.8px">Mar 10</div>
<div class="tc ax" style="left:1154px;top:778.8px">Mar 15</div>
<div class="tc ax" style="left:1288px;top:778.8px">Feb 28</div>
<div class="tc ax" style="left:1416px;top:778.8px">Mar 5</div>
<div class="tc ax" style="left:1542.5px;top:778.8px">Mar 10</div>
<div class="tc ax" style="left:1676px;top:778.8px">Mar 15</div>

<!-- table -->
<div class="t row" style="left:539px;top:833.0px;letter-spacing:0.47px">Total Income</div><div class="tr row" style="left:1784.35px;top:833.0px;letter-spacing:.85px">$245,000</div>
<div class="hl" style="left:522px;top:860px;width:1279px"></div>
<div class="t row" style="left:539px;top:887.7px;letter-spacing:0.38px">Total Cost of Goods Sold</div><div class="tr row" style="left:1784.35px;top:887.7px;letter-spacing:.85px">$245,000</div>
<div class="hl" style="left:522px;top:915px;width:1279px"></div>
<div class="t row" style="left:539.5px;top:942.6px;letter-spacing:0.34px">Gross Profit</div><div class="tr row" style="left:1785.35px;top:942.6px;letter-spacing:.85px">$245,000</div>
<div class="t sub" style="left:539.5px;top:966.7px">As a percentage of Total Income</div><div class="tr sub" style="left:1784.2px;top:966.8px">%0.0</div>
<div class="hl" style="left:522px;top:992px;width:1279px"></div>
<div class="t row" style="left:539.5px;top:1019.9px;letter-spacing:0.42px">Total Operating Expense</div><div class="tr row" style="left:1785.35px;top:1019.9px;letter-spacing:.85px">$245,000</div>
<div class="hl" style="left:522px;top:1047px;width:1279px"></div>
<div class="t row" style="left:539.5px;top:1074.9px;letter-spacing:0.5px">Net Profit</div><div class="tr row" style="left:1785.35px;top:1074.9px;letter-spacing:.85px">$245,000</div>
<div class="t sub" style="left:539.5px;top:1099.5px">As a percentage of Total Income</div><div class="tr sub" style="left:1784.2px;top:1099.3px">%0.0</div>
<div class="hl" style="left:522px;top:1124px;width:1279px"></div>

</div>

</body>
</html>
